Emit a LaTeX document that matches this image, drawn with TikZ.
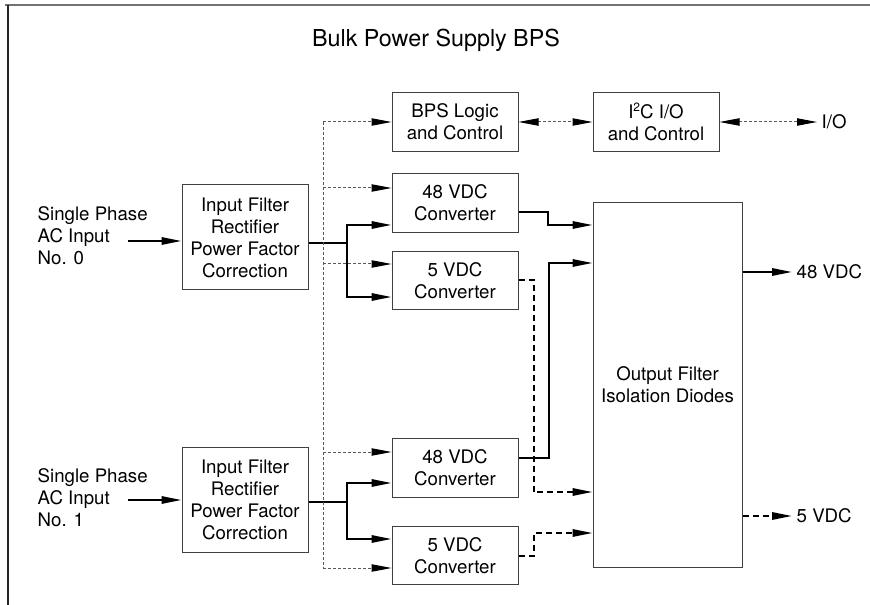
\documentclass[tikz,border=0pt]{standalone}
\usepackage{fontspec}
\setmainfont{TeX Gyre Heros}
\usetikzlibrary{arrows.meta,calc,positioning}

\begin{document}
\begin{tikzpicture}[x=0.75pt,y=-0.75pt]
    % Define node styles
    \tikzstyle{block}=[draw=black!75, line width=0.75pt, align=center, inner sep=0pt, font=\fontsize{14}{16.5}\selectfont]
    \tikzstyle{conv block}=[block, minimum width=94.5pt, minimum height=44pt]
    \tikzstyle{filter block}=[block, minimum width=94.5pt, minimum height=78.75pt]
    \tikzstyle{side text}=[align=left, font=\fontsize{14}{16.5}\selectfont]
    \tikzstyle{power line}=[line width=1.5pt, -{Triangle[length=15pt,width=5.5pt]}]
    \tikzstyle{power dash}=[power line, dash pattern=on 4.5pt off 3pt]
    \tikzstyle{ctrl line}=[black!65, line width=0.75pt, dash pattern=on 2.25pt off 1.5pt]
    \tikzstyle{ctrl arrow}=[ctrl line, -{Triangle[length=15pt,width=5.5pt,black]}]
    \tikzstyle{ctrl both}=[ctrl line, {Triangle[length=15pt,width=5.5pt,black]}-{Triangle[length=15pt,width=5.5pt,black]}]

    \useasboundingbox (0,0) rectangle (870,605);

    % Frame and title
    \draw[black!55, line width=1.5pt] (5,5) -- (870,5);
    \draw[black!85, line width=0.9pt] (8,5) -- (8,605);
    \node[font=\fontsize{17.5}{20}\selectfont] (title) at (436,40) {Bulk Power Supply BPS};

    % Input stage
    \node[filter block] (filterA) at (245,237.5) {Input Filter\\Rectifier\\Power Factor\\Correction};
    \node[filter block] (filterB) at (245,499.5) {Input Filter\\Rectifier\\Power Factor\\Correction};
    \node[side text, anchor=west] (inA) at (33,236) {Single Phase\\AC Input\\No. 0};
    \node[side text, anchor=west] (inB) at (33,498) {Single Phase\\AC Input\\No. 1};

    % Logic and converters
    \node[conv block] (logic) at (455,122) {BPS Logic\\and Control};
    \node[conv block] (i2c) at (656,122) {I\raisebox{0.75ex}{\fontsize{9}{9}\selectfont 2}C I/O\\and Control};
    \node[conv block] (convA48) at (455,203) {48 VDC\\Converter};
    \node[conv block] (convA5) at (455,280.5) {5 VDC\\Converter};
    \node[conv block] (convB48) at (455,468) {48 VDC\\Converter};
    \node[conv block] (convB5) at (455,555.5) {5 VDC\\Converter};

    % Output stage
    \node[block, minimum width=111.75pt, minimum height=273pt] (outfilter) at (667.5,385) {Output Filter\\Isolation Diodes};
    \node[side text, anchor=west] (io) at (817,122) {I/O};
    \node[side text, anchor=west] (out48) at (792,272) {48 VDC};
    \node[side text, anchor=west] (out5) at (792,516) {5 VDC};

    % AC inputs
    \coordinate (acA) at (128,241);
    \coordinate (acB) at (128,500);
    \draw[power line] (acA) -- (acA -| filterA.west);
    \draw[power line] (acB) -- (acB -| filterB.west);

    % Rectifiers to converters
    \coordinate (jA) at (347,243);
    \coordinate (jB) at (347,502);
    \draw[line width=1.5pt] (jA -| filterA.east) -- (jA);
    \draw[line width=1.5pt] (jB -| filterB.east) -- (jB);
    \draw[power line] (jA) |- ($(convA48.west)+(0,22)$);
    \draw[power line] (jA) |- ($(convA5.west)+(0,16.5)$);
    \draw[power line] (jB) |- ($(convB48.west)+(0,15)$);
    \draw[power line] (jB) |- ($(convB5.west)+(0,-16.5)$);

    % Control bus
    \coordinate (busT) at (323,122);
    \coordinate (busB) at (323,568);
    \draw[ctrl line] (busT) -- (busB);
    \draw[ctrl arrow] (busT) -- (logic.west);
    \foreach \n/\dy in {convA48/-15, convA5/-16.5, convB48/-16, convB5/12.5} {
        \coordinate (c-\n) at ($(\n.west)+(0,\dy)$);
        \draw[ctrl arrow] (busT |- c-\n) -- (c-\n);
    }
    \draw[ctrl both] (logic) -- (i2c);
    \draw[ctrl both] (i2c) -- (io);

    % Converters to output filter
    \coordinate (o1) at ($(outfilter.west)+(0,-160)$);
    \coordinate (o2) at ($(outfilter.west)+(0,-122)$);
    \coordinate (o3) at ($(outfilter.west)+(0,107)$);
    \coordinate (o4) at ($(outfilter.west)+(0,148)$);
    \draw[power line] ($(convA48.east)+(0,9)$) -| ($(o1)+(-45,0)$) -- (o1);
    \draw[power dash] (convA5.east) -| ($(o3)+(-59,0)$) -- (o3);
    \draw[power line] ($(convB48.east)+(0,-10)$) -| ($(o2)+(-44,0)$) -- (o2);
    \draw[power dash] (convB5.east) -| ($(o4)+(-59,0)$) -- (o4);

    % Outputs
    \draw[power line] (outfilter.east |- out48) -- (out48);
    \draw[power dash] (outfilter.east |- out5) -- (out5);
\end{tikzpicture}
\end{document}
